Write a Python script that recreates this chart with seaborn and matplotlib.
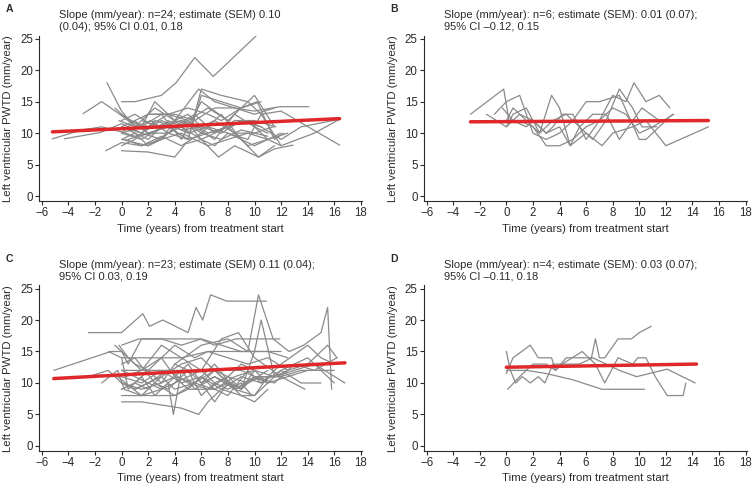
import matplotlib
matplotlib.use("Agg")
import matplotlib.pyplot as plt
import pandas as pd
import seaborn as sns

# --- panel A: n=24 (time in years, PWTD) ---
A_t = [
    [-5.2, -3.0, -1.5, 0.0, 1.0, 2.5],
    [-4.3, -1.6, 0.0, 1.5, 3.0, 4.5, 6.0],
    [-2.9, -1.5, -0.4, 0.5, 2.0, 3.5, 5.0, 6.5, 8.0],
    [-1.1, 0.0, 1.0, 2.2, 3.5, 5.0, 6.0, 7.5, 9.0, 10.5],
    [0.0, 1.0, 3.0, 4.1, 5.5, 6.9, 10.3],
    [-1.2, 0.0, 1.5, 3.0, 4.5, 6.0, 7.5, 9.0, 11.0],
    [0.0, 2.0, 4.0, 4.8, 6.0, 7.3, 8.5, 10.3, 11.5, 12.9],
    [0.0, 1.0, 2.0, 3.0, 4.0, 5.5, 7.0, 8.5, 10.0, 11.9, 14.1],
    [0.0, 1.0, 2.5, 4.0, 5.8, 7.0, 8.5, 10.0, 11.5],
    [-0.5, 0.5, 2.0, 3.5, 5.0, 6.0, 7.5, 9.5, 10.5, 12.0, 16.4],
    [0.0, 1.5, 3.0, 4.5, 6.0, 7.5, 9.0, 10.3, 11.5],
    [0.0, 1.0, 2.5, 4.0, 5.5, 7.0, 8.5, 10.0, 11.6],
    [0.3, 1.5, 3.0, 4.5, 6.5, 8.0, 9.5, 11.0, 12.0, 14.5, 16.4],
    [0.0, 1.5, 3.0, 4.5, 6.0, 8.0, 10.0, 11.5],
    [0.0, 1.0, 2.0, 3.5, 5.0, 6.5, 8.0, 9.5, 11.0, 12.5],
    [-0.2, 1.0, 2.5, 4.0, 5.5, 7.0, 8.5, 10.0, 11.0],
    [0.0, 1.5, 3.0, 4.0, 5.0, 6.5, 8.0, 9.5, 10.5, 12.0],
    [0.0, 2.0, 3.5, 5.0, 6.0, 7.5, 9.0, 10.5],
    [0.5, 2.0, 3.5, 5.0, 6.5, 8.0, 9.5, 11.0],
    [0.0, 1.0, 2.0, 3.0, 4.0, 5.0],
    [1.5, 3.0, 4.5, 6.0, 7.5, 9.0, 10.5, 12.0, 13.5, 16.4],
    [0.0, 1.5, 2.5, 4.0, 5.0, 6.0, 7.0, 8.5, 10.0, 11.4],
    [2.0, 3.5, 5.0, 6.5, 7.5, 9.0, 10.2, 11.5, 12.2],
    [0.0, 1.0, 2.0, 3.5, 4.5, 6.0, 7.0, 8.0, 10.0, 11.0, 12.0],
]
A_v = [
    [9.1, 10.5, 11.0, 10.2, 9.5, 10.0],
    [9.1, 10.1, 11.5, 10.0, 12.0, 10.5, 11.0],
    [13.1, 15.0, 13.4, 12.0, 11.0, 13.0, 12.0, 14.0, 12.0],
    [18.0, 13.5, 11.0, 12.0, 10.0, 11.5, 9.0, 10.5, 12.0, 11.0],
    [15.0, 15.0, 16.0, 18.0, 22.0, 19.0, 25.8],
    [7.2, 8.5, 8.0, 9.5, 8.0, 10.0, 9.0, 10.5, 9.5],
    [7.2, 7.0, 6.2, 8.3, 9.0, 6.2, 8.0, 6.2, 7.5, 8.1],
    [11.0, 12.0, 13.0, 13.0, 13.0, 12.0, 14.0, 14.0, 13.5, 14.2, 14.2],
    [12.0, 13.0, 11.0, 12.0, 17.0, 15.0, 14.0, 13.0, 14.0],
    [14.0, 12.0, 10.0, 11.0, 9.0, 17.0, 16.0, 15.0, 13.0, 13.5, 8.1],
    [10.0, 9.0, 11.0, 12.0, 10.0, 13.0, 9.0, 6.2, 8.0],
    [8.0, 9.0, 12.0, 11.0, 13.0, 10.0, 12.0, 12.0, 11.0],
    [9.0, 8.0, 9.0, 10.0, 8.0, 9.0, 10.0, 9.0, 8.0, 10.0, 12.2],
    [13.0, 11.0, 13.0, 9.0, 15.0, 12.0, 16.0, 11.0],
    [10.0, 12.0, 10.0, 10.0, 12.0, 10.0, 11.0, 12.0, 9.0, 10.0],
    [12.0, 11.0, 14.0, 12.0, 11.0, 9.0, 13.0, 11.0, 10.0],
    [11.0, 10.0, 9.0, 12.0, 10.0, 11.0, 10.0, 9.0, 13.0, 8.0],
    [9.0, 8.0, 10.0, 9.0, 16.0, 15.0, 14.0, 15.0],
    [9.0, 10.0, 11.0, 9.0, 10.0, 11.0, 8.0, 9.0],
    [11.0, 10.0, 8.0, 9.0, 11.0, 10.0],
    [12.0, 11.0, 12.0, 11.0, 10.0, 12.0, 11.0, 9.0, 11.0, 12.2],
    [10.0, 11.0, 15.0, 12.0, 13.0, 11.0, 12.0, 10.0, 10.0, 11.0],
    [13.0, 13.0, 14.0, 13.0, 12.0, 14.0, 15.0, 9.0, 10.0],
    [9.0, 10.0, 9.0, 12.0, 11.0, 9.0, 8.0, 10.0, 8.0, 9.0, 10.0],
]

# --- panel B: n=6 ---
B_t = [
    [-2.7, -0.2, 0.2, 1.0, 2.0, 3.0, 4.0, 5.0, 6.0, 7.0, 8.0, 9.0, 9.6, 10.5, 11.5, 12.3],
    [-1.5, 0.0, 0.5, 1.5, 2.5, 3.4, 4.0, 4.8, 5.5, 6.5, 7.5, 8.5, 9.5, 10.2, 11.3],
    [-0.9, 0.0, 1.0, 2.0, 3.0, 4.0, 5.0, 6.0, 7.0, 8.5, 10.0, 10.5, 12.5],
    [0.0, 0.5, 1.5, 2.5, 3.5, 4.5, 5.5, 6.5, 7.5, 8.5, 9.5, 10.2, 11.5],
    [-0.3, 0.5, 1.5, 2.0, 3.0, 4.0, 4.8, 6.0, 7.2, 8.0, 9.5, 10.5, 12.0, 15.2],
    [0.0, 1.0, 2.0, 3.0, 3.5, 4.2, 5.0, 6.0, 7.0, 8.0, 9.0, 10.0, 11.0, 12.6],
]
B_v = [
    [13.0, 17.0, 12.0, 12.0, 11.0, 8.0, 8.0, 9.0, 11.0, 12.0, 16.0, 15.0, 18.0, 15.0, 16.0, 14.0],
    [13.0, 11.0, 13.0, 14.0, 10.0, 16.0, 14.0, 8.0, 11.0, 9.0, 12.0, 17.0, 14.0, 11.0, 11.0],
    [13.0, 15.0, 16.0, 10.0, 9.0, 10.0, 12.0, 15.0, 15.0, 16.0, 9.0, 9.0, 13.0],
    [12.0, 14.0, 12.0, 10.0, 12.0, 13.0, 11.0, 13.0, 13.0, 9.0, 12.0, 14.0, 12.0],
    [14.0, 12.0, 11.0, 12.0, 10.0, 11.0, 8.0, 10.0, 8.0, 10.0, 11.0, 12.0, 8.0, 11.0],
    [11.0, 13.0, 12.0, 10.0, 11.0, 13.0, 13.0, 9.0, 12.0, 14.0, 13.0, 10.0, 11.0, 13.0],
]

# --- panel C: n=23 ---
C_t = [
    [-5.1, -0.8, 0.0, 1.0, 2.0, 3.0, 4.0, 5.0, 6.0, 7.0, 8.0, 9.0, 10.0],
    [-2.5, 0.0, 1.6, 2.1, 3.1, 5.0, 5.6, 6.1, 6.7, 7.9, 9.5, 10.9],
    [4.0, 6.0, 8.0, 9.5, 10.3, 11.4, 12.6, 13.7, 15.0, 15.5, 15.8],
    [-2.5, -1.0, 0.0, 1.0, 2.0, 3.5, 5.0, 6.5, 8.0, 9.5, 11.0],
    [-1.5, -0.3, 0.2, 1.5, 3.0, 4.0, 5.5, 7.0, 8.5, 10.0, 11.5, 13.0, 14.5, 16.2],
    [-0.5, 0.0, 0.5, 1.5, 3.0, 4.5, 6.0, 7.5, 9.0, 10.0, 12.0],
    [0.0, 1.5, 3.0, 4.5, 5.8, 6.5, 7.5, 9.0, 10.0, 11.0],
    [0.0, 0.5, 1.5, 2.5, 3.5, 3.9, 4.5, 5.5, 7.0, 8.5, 9.5, 10.5, 12.0, 13.8],
    [0.0, 1.0, 2.0, 3.0, 4.0, 5.0, 6.0, 7.0, 8.0, 9.0, 10.0, 11.0, 12.5, 14.0],
    [0.0, 1.0, 2.0, 3.0, 4.5, 6.0, 7.5, 9.0, 10.0, 10.5, 11.5, 13.0, 14.5, 16.8],
    [-0.2, 0.5, 1.5, 3.0, 4.5, 6.0, 7.5, 8.8, 10.0, 12.0, 13.5, 15.0, 16.0],
    [0.0, 1.5, 3.0, 4.0, 5.0, 6.0, 7.0, 8.0, 9.0, 10.0, 11.0],
    [0.0, 1.0, 2.0, 3.0, 4.0, 5.0, 6.0, 7.0, 8.0, 9.0, 9.8],
    [0.3, 1.5, 3.0, 4.0, 5.5, 6.5, 8.0, 9.5, 11.0, 12.5, 14.0, 15.5, 16.2],
    [0.0, 1.0, 2.0, 3.0, 4.0, 5.0, 6.0, 7.0, 8.0, 9.5, 10.5, 12.0, 14.0, 15.0, 16.0],
    [0.0, 1.3, 3.0, 4.5, 5.9, 7.0, 8.6, 10.0, 11.9],
    [-1.0, 0.0, 1.5, 3.0, 4.5, 6.5, 8.0, 9.5, 11.0, 12.5],
    [0.0, 1.0, 2.0, 3.0, 4.0, 5.5, 7.0, 8.5, 10.0, 11.0],
    [-0.3, 0.3, 1.5, 2.5, 3.5, 5.0, 6.0, 7.0, 8.0, 9.0, 10.0, 11.5, 12.5],
    [0.0, 2.0, 4.0, 6.0, 7.0, 8.0, 9.0, 10.0, 11.0, 12.0],
    [0.0, 1.0, 2.5, 4.0, 5.5, 7.0, 8.5, 10.0, 11.0],
    [6.0, 7.0, 8.0, 9.0, 10.0, 11.0, 12.0, 13.0, 14.0, 15.0, 16.0],
    [0.0, 1.5, 3.0, 4.5, 6.0, 7.5, 9.0, 10.5, 12.0, 13.5, 15.0],
]
C_v = [
    [12.0, 15.0, 15.0, 13.0, 12.0, 14.0, 11.0, 13.0, 10.0, 12.0, 11.0, 13.0, 12.0],
    [18.0, 18.0, 21.0, 19.0, 20.0, 18.0, 22.0, 20.0, 24.0, 23.0, 23.0, 23.0],
    [13.0, 16.0, 17.0, 15.0, 24.0, 17.0, 15.0, 16.0, 18.0, 22.0, 9.0],
    [11.0, 12.0, 10.0, 9.0, 10.0, 12.0, 10.0, 9.0, 11.0, 10.0, 12.0],
    [10.0, 12.0, 9.0, 8.0, 9.0, 11.0, 10.0, 12.0, 9.0, 11.0, 10.0, 13.0, 12.0, 14.0],
    [16.0, 15.0, 13.0, 17.0, 17.0, 16.0, 17.0, 16.0, 15.0, 15.0, 15.0],
    [7.0, 7.0, 6.5, 6.0, 5.0, 7.0, 9.0, 8.0, 7.0, 9.0],
    [14.0, 9.0, 11.0, 8.0, 10.0, 5.0, 12.0, 9.0, 11.0, 9.0, 10.0, 11.0, 11.0, 9.0],
    [8.0, 8.0, 8.0, 8.0, 8.0, 9.0, 9.0, 9.0, 10.0, 8.0, 8.0, 10.0, 11.0, 12.0],
    [9.0, 10.0, 9.0, 11.0, 13.0, 14.0, 11.0, 9.0, 15.0, 20.0, 11.0, 12.0, 13.0, 10.0],
    [16.0, 14.0, 12.0, 16.0, 14.0, 12.0, 17.0, 18.0, 14.0, 11.0, 12.0, 12.0, 10.0],
    [10.0, 9.0, 10.0, 13.0, 12.0, 10.0, 7.0, 10.0, 9.0, 11.0, 10.0],
    [12.0, 11.0, 10.0, 9.0, 10.0, 11.0, 12.0, 10.0, 9.0, 10.0, 8.0],
    [11.0, 12.0, 14.0, 16.0, 14.0, 15.0, 14.0, 13.0, 14.0, 12.0, 13.0, 16.0, 14.0],
    [9.0, 10.0, 12.0, 10.0, 11.0, 9.0, 11.0, 9.0, 8.0, 12.0, 10.0, 13.0, 16.0, 14.0, 13.0],
    [16.0, 17.0, 17.0, 17.0, 17.0, 16.0, 17.0, 17.0, 17.0],
    [15.0, 14.0, 14.0, 14.0, 14.0, 15.0, 15.0, 15.0, 15.0, 14.0],
    [10.0, 9.0, 10.0, 11.0, 9.0, 10.0, 9.0, 11.0, 12.0, 10.0],
    [11.0, 10.0, 8.0, 10.0, 9.0, 12.0, 8.0, 10.0, 11.0, 9.0, 12.0, 11.0, 12.0],
    [12.0, 12.0, 12.0, 12.0, 12.0, 12.0, 12.0, 11.0, 11.0, 11.0],
    [13.0, 14.0, 10.0, 8.0, 10.0, 13.0, 9.0, 8.0, 11.0],
    [10.0, 11.0, 10.0, 9.0, 11.0, 10.0, 12.0, 13.0, 14.0, 12.0, 12.0],
    [11.0, 10.0, 12.0, 10.0, 11.0, 9.0, 11.0, 10.0, 12.0, 10.0, 10.0],
]

# --- panel D: n=4 ---
D_t = [
    [0.1, 1.0, 2.0, 3.0, 3.7, 4.5, 5.5, 6.4, 6.7, 7.0, 7.4, 8.4, 9.4, 10.0, 10.9],
    [0.0, 0.5, 1.8, 2.4, 3.4, 3.7, 4.2, 5.7, 6.7, 7.4, 8.4, 9.5, 9.9, 10.5, 11.2, 12.1, 13.3, 13.5],
    [0.0, 0.3, 0.7, 1.2, 1.8, 2.4, 2.9, 3.5, 4.5, 5.5, 6.5, 7.5, 8.5, 9.8, 12.1, 14.2],
    [0.0, 1.5, 3.0, 5.0, 7.2, 8.5, 10.4],
]
D_v = [
    [9.0, 11.0, 13.0, 13.0, 12.0, 14.0, 14.0, 14.0, 17.0, 14.0, 14.0, 17.0, 17.0, 18.0, 19.0],
    [11.5, 14.0, 16.0, 14.0, 14.0, 12.0, 13.0, 15.0, 13.0, 10.0, 14.0, 13.0, 14.0, 14.0, 11.0, 8.0, 8.0, 10.0],
    [15.0, 12.0, 10.0, 11.0, 10.0, 11.0, 10.0, 13.0, 13.0, 13.0, 14.0, 13.0, 12.0, 11.0, 12.2, 10.0],
    [12.0, 12.0, 11.5, 10.5, 9.0, 9.0, 9.0],
]

# fitted mean slope lines (end points)
fit_t = {"A": [-5.2, 16.4], "B": [-2.7, 15.2], "C": [-5.1, 16.8], "D": [0.0, 14.3]}
fit_v = {"A": [10.2, 12.3], "B": [11.8, 12.0], "C": [10.7, 13.2], "D": [12.5, 13.0]}

notes = {
    "A": "Slope (mm/year): n=24; estimate (SEM) 0.10\n(0.04); 95% CI 0.01, 0.18",
    "B": "Slope (mm/year): n=6; estimate (SEM): 0.01 (0.07);\n95% CI \u20130.12, 0.15",
    "C": "Slope (mm/year): n=23; estimate (SEM) 0.11 (0.04);\n95% CI 0.03, 0.19",
    "D": "Slope (mm/year): n=4; estimate (SEM): 0.03 (0.07);\n95% CI \u20130.11, 0.18",
}


def to_frame(times, vals):
    rows = []
    for i, (ts, vs) in enumerate(zip(times, vals)):
        for t, v in zip(ts, vs):
            rows.append((i, t, v))
    return pd.DataFrame(rows, columns=["id", "t", "v"])


sns.set_style("ticks")
plt.rcParams["font.family"] = ["Liberation Sans", "DejaVu Sans"]
txt = "#2b2b2b"

fig = plt.figure(figsize=(7.53, 4.87), dpi=100)

panels = {
    "A": (A_t, A_v, [0.052, 0.587, 0.429, 0.340]),
    "B": (B_t, B_v, [0.563, 0.587, 0.429, 0.340]),
    "C": (C_t, C_v, [0.052, 0.074, 0.429, 0.340]),
    "D": (D_t, D_v, [0.563, 0.074, 0.429, 0.340]),
}

for key, (ts, vs, pos) in panels.items():
    ax = fig.add_axes(pos)
    df = to_frame(ts, vs)
    sns.lineplot(data=df, x="t", y="v", units="id", estimator=None, sort=False,
                 color="#8a8a8a", lw=0.9, ax=ax)
    sns.lineplot(x=fit_t[key], y=fit_v[key], color="#e0282a", lw=2.5, ax=ax)
    ax.set_xlim(-6.2, 18.1)
    ax.set_ylim(-0.8, 25.5)
    ax.set_xticks(range(-6, 19, 2))
    ax.set_yticks(range(0, 26, 5))
    ax.tick_params(labelsize=8.3, length=3, width=0.8, pad=1.5, colors=txt)
    ax.set_xlabel("Time (years) from treatment start", fontsize=8.2, labelpad=3, color=txt)
    ax.set_ylabel("Left ventricular PWTD (mm/year)", fontsize=8.2, labelpad=5, color=txt)
    sns.despine(ax=ax)
    for s in ["left", "bottom"]:
        ax.spines[s].set_linewidth(0.8)
        ax.spines[s].set_color(txt)

    x0 = pos[0]
    top = pos[1] + pos[3]
    fig.text(x0 - 0.045, top + 0.054, key, fontsize=7.5, fontweight="bold",
             va="center", color=txt)
    fig.text(x0 + 0.027, top + 0.030, notes[key], fontsize=8.0, va="center",
             linespacing=1.2, color=txt)

fig.savefig("out.png", dpi=100)
